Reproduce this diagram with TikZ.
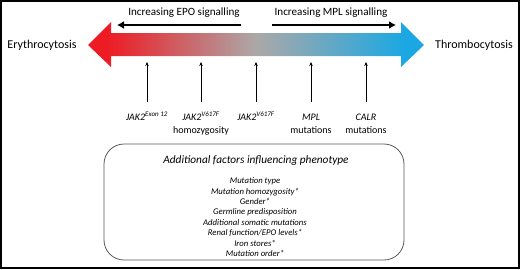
\documentclass[tikz,border=0pt]{standalone}
\usepackage{fontspec}
\setmainfont{Carlito}
\usetikzlibrary{calc,positioning,arrows.meta}
\definecolor{erythred}{RGB}{237,28,36}
\definecolor{midgrey}{RGB}{172,168,168}
\definecolor{thromblue}{RGB}{27,168,226}
\pgfdeclarehorizontalshading{phenoshade}{100bp}{
  color(0bp)=(erythred); color(28bp)=(erythred); color(50bp)=(midgrey);
  color(72bp)=(thromblue); color(100bp)=(thromblue)}
\newcommand{\genestrut}{\rule{0pt}{9.5pt}}

\begin{document}
\begin{tikzpicture}[
    x=1pt, y=-1pt,
    pheno/.style={font=\fontsize{12}{14}\selectfont},
    signal/.style={font=\fontsize{11.1}{13}\selectfont},
    sigarrow/.style={-{Latex[length=7pt,width=8pt]}, line width=1.8pt},
    gene/.style={font=\fontsize{10}{13.6}\selectfont, align=center, anchor=north, inner sep=0pt},
    uparrow/.style={-{Stealth[length=4pt,width=3.5pt]}, line width=0.6pt, shorten <=9pt},
    factorbox/.style={rounded corners=20pt, draw=black!65, line width=0.8pt, minimum width=300pt, minimum height=116pt},
    factor/.style={font=\fontsize{8.7}{10.4}\selectfont\itshape, align=center, inner sep=0pt}
  ]
    \useasboundingbox (0,0) rectangle (520,269);
    \draw[line width=2pt] (1,1) rectangle (519,268);

    \shade[shading=phenoshade]
      (88,45) -- (111,22) -- (111,33) -- (401,33) -- (401,22) -- (424,45)
      -- (401,67) -- (401,56) -- (111,56) -- (111,67) -- cycle;
    \coordinate (barlow) at (0,62);

    \node[pheno] (erythro) at (42,45) {Erythrocytosis};
    \node[pheno] (thrombo) at (474,45) {Thrombocytosis};

    \node[signal] (epo) at (184,13) {Increasing EPO signalling};
    \node[signal] (mpl) at (331,13) {Increasing MPL signalling};
    \coordinate (epofrom) at (241,25);
    \coordinate (epoto) at (117,25);
    \coordinate (mplfrom) at (272,25);
    \coordinate (mplto) at (396,25);
    \draw[sigarrow] (epofrom) -- (epoto);
    \draw[sigarrow] (mplfrom) -- (mplto);

    \node[gene] (exon) at (147,110.5) {\genestrut\textit{JAK2}\textsuperscript{\itshape Exon 12}};
    \node[gene] (homo) at (201,110.5) {\genestrut\textit{JAK2}\textsuperscript{\itshape V617F}\\homozygosity};
    \node[gene] (vhet) at (256,110.5) {\genestrut\textit{JAK2}\textsuperscript{\itshape V617F}};
    \node[gene] (mplmut) at (311,110.5) {\genestrut\textit{MPL}\\mutations};
    \node[gene] (calr) at (366,110.5) {\genestrut\textit{CALR}\\mutations};

    \foreach \g in {exon,homo,vhet,mplmut,calr}
      \draw[uparrow] (\g.north) -- (\g.north |- barlow);

    \node[factorbox] (factors) at (254,202) {};
    \node[font=\fontsize{11.3}{13}\selectfont\itshape] (title) at (256,161) {Additional factors influencing phenotype};
    \node[factor, anchor=north] (factorlist) at (255,177.5) {Mutation type\\Mutation homozygosity*\\Gender*\\Germline predisposition\\Additional somatic mutations\\Renal function/EPO levels*\\Iron stores*\\Mutation order*};
  \end{tikzpicture}
\end{document}
